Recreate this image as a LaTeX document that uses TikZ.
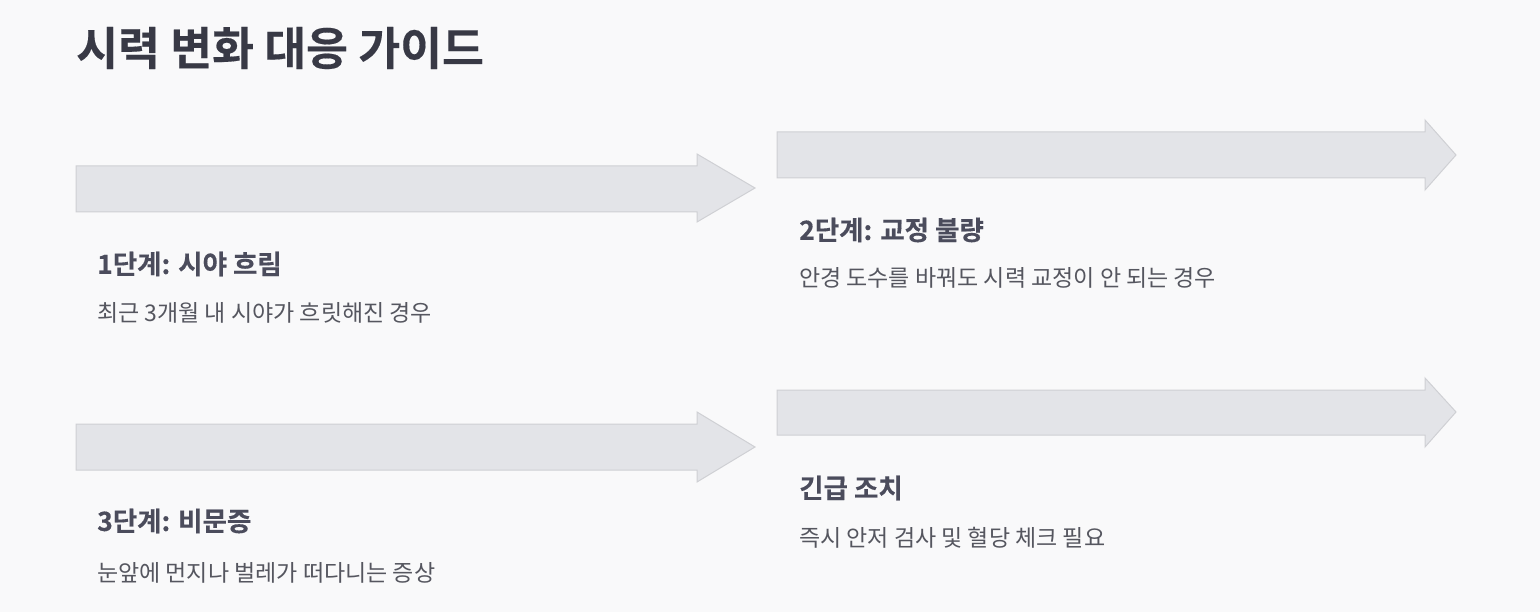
\documentclass[tikz,border=0pt]{standalone}
\usepackage{fontspec}
\newfontfamily\krdesc{Noto Sans CJK KR}
\newfontfamily\krstep[FakeBold=0.3]{Noto Sans CJK KR Bold}
\newfontfamily\krtitle[FakeBold=0.3]{Noto Sans CJK KR Bold}
\definecolor{bg}{HTML}{F9F9FA}
\definecolor{arrowfill}{HTML}{E3E4E8}
\definecolor{arrowline}{HTML}{CFD0D4}
\definecolor{titlec}{HTML}{383945}
\definecolor{stepc}{HTML}{4B4C5C}
\definecolor{descc}{HTML}{55565F}
\tikzset{
  bigarrow/.style={fill=arrowfill,draw=arrowline,line width=1pt,line join=miter},
  maintitle/.style={anchor=west,inner sep=0pt,text=titlec,font=\krtitle\fontsize{45.5}{54}\selectfont},
  steptitle/.style={anchor=west,inner sep=0pt,text=stepc,font=\krstep\fontsize{26.5}{31}\selectfont},
  stepdesc/.style={anchor=west,inner sep=0pt,text=descc,font=\krdesc\fontsize{23}{27}\selectfont},
}
\begin{document}
\begin{tikzpicture}[x=1pt,y=-1pt]
\fill[bg] (0,0) rectangle (1540,612);
\useasboundingbox (0,0) rectangle (1540,612);
\node[maintitle] (title) at (76,48) {시력 변화 대응 가이드};
% arrows
\draw[bigarrow] (76,166) -- (697,166) -- (697,154) -- (755,188) -- (697,222) -- (697,212) -- (76,212) -- cycle;
\draw[bigarrow] (777,132) -- (1425,132) -- (1425,120) -- (1456,155) -- (1425,190) -- (1425,178) -- (777,178) -- cycle;
\draw[bigarrow] (76,424) -- (697,424) -- (697,412) -- (755,447) -- (697,482) -- (697,470) -- (76,470) -- cycle;
\draw[bigarrow] (777,390) -- (1425,390) -- (1425,378) -- (1456,412) -- (1425,447) -- (1425,435) -- (777,435) -- cycle;
% texts
\node[steptitle] (s1) at (97,264) {1단계: 시야 흐림};
\node[stepdesc] (d1) at (97,313) {최근 3개월 내 시야가 흐릿해진 경우};
\node[steptitle] (s2) at (799,230) {2단계: 교정 불량};
\node[stepdesc] (d2) at (799,278) {안경 도수를 바꿔도 시력 교정이 안 되는 경우};
\node[steptitle] (s3) at (97,521) {3단계: 비문증};
\node[stepdesc] (d3) at (97,573) {눈앞에 먼지나 벌레가 떠다니는 증상};
\node[steptitle] (s4) at (799,488) {긴급 조치};
\node[stepdesc] (d4) at (799,538) {즉시 안저 검사 및 혈당 체크 필요};
\end{tikzpicture}
\end{document}
